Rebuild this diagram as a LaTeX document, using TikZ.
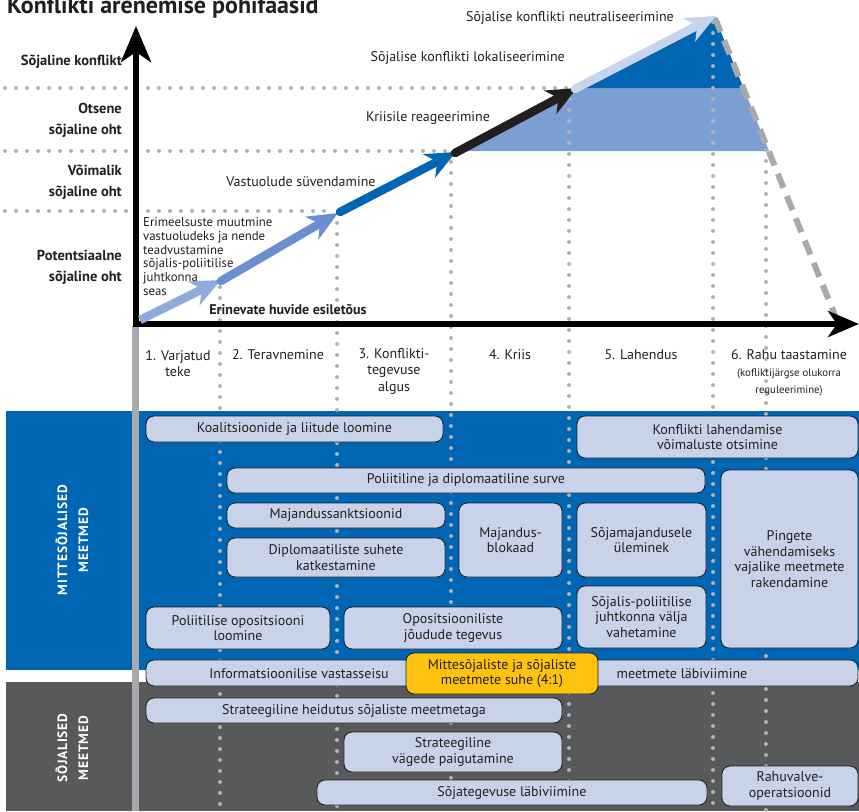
\documentclass[tikz,border=0pt]{standalone}
\usepackage{fontspec}
\setmainfont{PT Sans}
\usetikzlibrary{arrows.meta}
\definecolor{darkblue}{HTML}{0065B3}
\definecolor{midblue}{HTML}{6A8FCF}
\definecolor{lightarrow}{HTML}{8FAADC}
\definecolor{regionblue}{HTML}{7B9ED3}
\definecolor{palearrow}{HTML}{C6D4EC}
\definecolor{boxfill}{HTML}{C8D3EA}
\definecolor{boxline}{HTML}{222222}
\definecolor{panelgray}{HTML}{58595B}
\definecolor{axisgray}{HTML}{A7A9AC}
\definecolor{dotgray}{HTML}{B0B2B4}
\definecolor{gold}{HTML}{FFC20E}
\definecolor{ink}{HTML}{231F20}
\newcommand{\rbox}[7][box]{\node[#1, minimum width={#5-#3}, minimum height={#6-#4}] (#2) at ({(#3+#5)/2},{(#4+#6)/2}) {#7};}
\begin{document}
\begin{tikzpicture}[x=1pt,y=-1pt,
  every node/.style={text=ink, inner sep=0pt, font=\fontsize{14}{15.5}\selectfont},
  box/.style={draw=boxline, line width=0.9pt, fill=boxfill, rounded corners=8pt, align=center},
  goldbox/.style={box, fill=gold},
  dotline/.style={draw=dotgray, line width=4pt, line cap=round, dash pattern=on 0pt off 11pt},
  bigarrow/.style={line width=8.5pt, line cap=round, -{Stealth[length=30pt,width=26pt,inset=9pt]}},
  levellabel/.style={font=\bfseries\fontsize{14.5}{21}\selectfont, align=right, anchor=east},
  phase/.style={font=\fontsize{14}{16.5}\selectfont, align=center},
  sidelabel/.style={rotate=90, text=white, align=center, font=\bfseries\fontsize{13.5}{21}\selectfont\addfontfeature{LetterSpace=6}}
]
\fill[white] (0,0) rectangle (859,811);
\path[use as bounding box] (0,0) rectangle (859,811);

% panels
\fill[darkblue] (6,411) rectangle (859,670);
\fill[panelgray] (6,682) rectangle (859,811);

% regions in chart
\fill[regionblue] (455,151) -- (575,88) -- (743.5,88) -- (769,151) -- cycle;
\fill[darkblue] (575,88) -- (715,17) -- (743.5,88) -- cycle;

% dotted horizontal level lines
\draw[dotline] (5,88) -- (570,88);
\draw[dotline] (5,151) -- (450,151);
\draw[dotline] (5,211) -- (335,211);
% dotted vertical phase lines
\draw[dotline] (220,287) -- (220,811);
\draw[dotline] (337,223) -- (337,811);
\draw[dotline] (451,162) -- (451,811);
\draw[dotline] (569,99) -- (569,811);
\draw[dotline] (713,22) -- (713,811);
\draw[dotline] (766,150) -- (766,811);

% dashed descent
\coordinate (peak) at (715,18);
\coordinate (fall) at (836,318);
\draw[axisgray, line width=6pt, dash pattern=on 15pt off 9pt] (peak) -- (fall);

% axes
\coordinate (origin) at (136,324);
\coordinate (ytop) at (136,26);
\coordinate (xend) at (859,324);
\coordinate (gbottom) at (135.5,811);
\draw[axisgray, line width=6.5pt] (135.5,326) -- (gbottom);
\draw[line width=6pt, -{Stealth[length=36pt,width=30pt,inset=10pt]}] (136,327) -- (ytop);
\draw[line width=6pt, -{Stealth[length=31pt,width=26pt,inset=9pt]}] (133,324) -- (xend);

% development arrows
\coordinate (p0) at (140,320);
\coordinate (p1) at (221,280);
\coordinate (p1b) at (221,281);
\coordinate (p2) at (338,213);
\coordinate (p2b) at (340,212);
\coordinate (p3) at (456,152);
\coordinate (p3b) at (455,153);
\coordinate (p4) at (577,88);
\coordinate (p4b) at (575,89);
\coordinate (p5) at (716,16);
\draw[bigarrow, lightarrow, line cap=butt] (p0) -- (p1);
\draw[bigarrow, midblue] (p1b) -- (p2);
\draw[bigarrow, darkblue] (p2b) -- (p3);
\draw[bigarrow, black!88] (p3b) -- (p4);
\draw[bigarrow, palearrow] (p4b) -- (p5);

% title
\node[anchor=base west, font=\bfseries\fontsize{24}{28}\selectfont] (title) at (7,13) {Konflikti arenemise põhifaasid};

% level labels
\node[levellabel] (lv4) at (122,62) {Sõjaline konflikt};
\node[levellabel] (lv3) at (122,120.5) {Otsene\\sõjaline oht};
\node[levellabel] (lv2) at (122,182.5) {Võimalik\\sõjaline oht};
\node[levellabel] (lv1) at (122,267.5) {Potentsiaalne\\sõjaline oht};

% chart labels
\node[anchor=east] (t5) at (674,18) {Sõjalise konflikti neutraliseerimine};
\node[anchor=east] (t4) at (565,58) {Sõjalise konflikti lokaliseerimine};
\node (t3) at (428,118) {Kriisile reageerimine};
\node (t2) at (301,182) {Vastuolude süvendamine};
\node[anchor=west, align=left, font=\fontsize{12.8}{13.8}\selectfont] (t1) at (143,256.5) {Erimeelsuste muutmine\\vastuoludeks ja nende\\teadvustamine\\sõjalis-poliitilise\\juhtkonna\\seas};
\node[font=\bfseries\fontsize{14}{15}\selectfont] (t0) at (288,310) {Erinevate huvide esiletõus};

% phases
\node[phase] (ph1) at (178,363.5) {1. Varjatud\\teke};
\node[phase] (ph2) at (278,355) {2. Teravnemine};
\node[phase] (ph3) at (394,371) {3. Konflikti-\\tegevuse\\algus};
\node[phase] (ph4) at (510,355) {4. Kriis};
\node[phase] (ph5) at (641,355) {5. Lahendus};
\node[phase] (ph6) at (789,355) {6. Rahu taastamine};
\node[align=center, font=\fontsize{10.8}{17}\selectfont] (ph6b) at (789,382.5) {(kofliktijärgse olukorra\\reguleerimine)};

% side labels
\node[sidelabel] (nonmil) at (72,540) {MITTESÕJALISED\\MEETMED};
\node[sidelabel] (mil) at (72,748) {SÕJALISED\\MEETMED};

% non-military measures
\rbox{b1}{146}{416}{443}{442}{Koalitsioonide ja liitude loomine}
\rbox{b2}{577}{416}{858}{458}{Konflikti lahendamise\\võimaluste otsimine}
\rbox{b3}{227}{468}{705}{493}{Poliitiline ja diplomaatiline surve}
\rbox{b4}{227}{503}{445}{528}{Majandussanktsioonid}
\rbox{b5}{227}{538}{445}{577}{Diplomaatiliste suhete\\katkestamine}
\rbox{b6}{459}{503}{562}{577}{Majandus-\\blokaad}
\rbox{b7}{577}{503}{706}{577}{Sõjamajandusele\\üleminek}
\rbox{b8}{721}{470}{858}{648}{Pingete\\vähendamiseks\\vajalike meetmete\\rakendamine}
\rbox{b9}{146}{607}{330}{649}{Poliitilise opositsiooni\\loomine}
\rbox{b10}{344}{607}{562}{649}{Opositsiooniliste\\jõudude tegevus}
\rbox{b11}{577}{586}{706}{648}{Sõjalis-poliitilise\\juhtkonna välja\\vahetamine}
\rbox{b12}{146}{660}{858}{686}{}
\node (b12l) at (299,674) {Informatsioonilise vastasseisu};
\node (b12r) at (682,674) {meetmete läbiviimine};
\rbox[goldbox]{ratio}{406}{653}{598}{694}{Mittesõjaliste ja sõjaliste\\meetmete suhe (4:1)}

% military measures
\rbox{m1}{146}{698}{562}{723}{Strateegiline heidutus sõjaliste meetmetaga}
\rbox{m2}{344}{732}{562}{772}{Strateegiline\\vägede paigutamine}
\rbox{m3}{317}{780}{707}{805}{Sõjategevuse läbiviimine}
\rbox{m4}{722}{766}{858}{806}{Rahuvalve-\\operatsioonid}
\end{tikzpicture}
\end{document}
